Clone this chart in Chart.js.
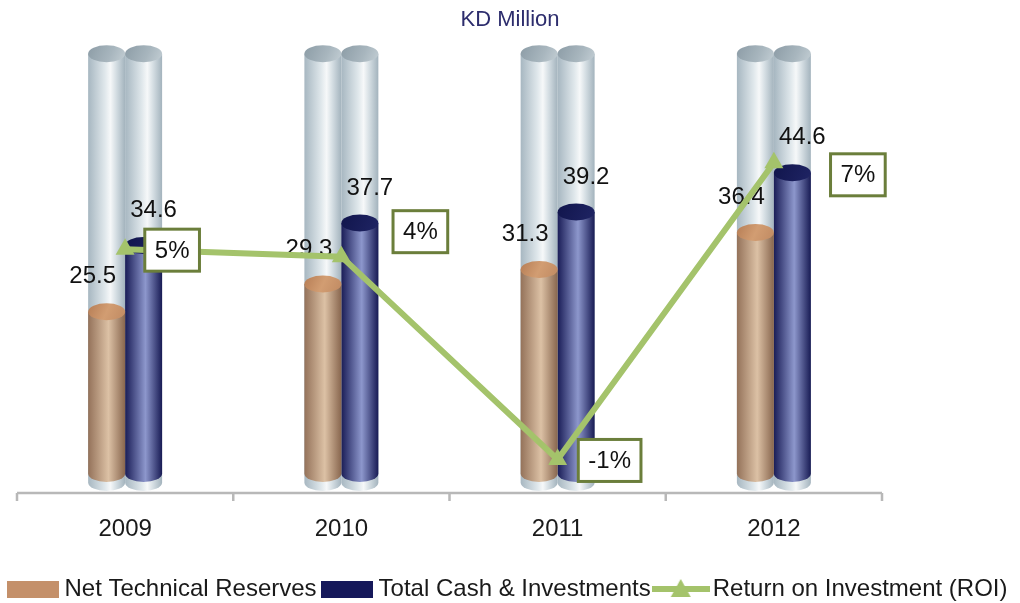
<!DOCTYPE html>
<html>
<head>
<meta charset="utf-8">
<script src="https://cdn.jsdelivr.net/npm/chart.js@4.4.1/dist/chart.umd.min.js"></script>
<style>
    html, body { margin: 0; padding: 0; background: #fff; }
</style>
</head>
<body>
<canvas id="myChart" width="1020" height="603"></canvas>
<script>
const years = ['2009', '2010', '2011', '2012'];
const reserves = [25.5, 29.3, 31.3, 36.4];
const cashInvestments = [34.6, 37.7, 39.2, 44.6];
const roi = [4.6, 4.4, -1.0, 6.9];
const seriesNames = ['Net Technical Reserves', 'Total Cash & Investments', 'Return on Investment (ROI)'];

const yMax = 62;      // left (KD) axis
const tubeValue = 61; // height of the grey back tubes
const y1Min = -2;
const y1Max = 10;

// label box offsets for the ROI labels (px from the point)
const roiLabelShift = [[47, 1], [79, -25], [52, 1], [84, 12]];

const greenLine = '#a4c36b';
const tanStops = [[0, '#94725a'], [0.55, '#dcc1a5'], [1, '#88664e']];
const tanTop = [[0, '#b67d55'], [0.5, '#d29d72'], [1, '#c08a62']];
const navyStops = [[0, '#1a1d57'], [0.55, '#8d97cc'], [1, '#181b54']];
const navyTop = [[0, '#11154c'], [1, '#1f2464']];
const greyStops = [[0, '#a7b7c1'], [0.45, '#dfe7eb'], [0.6, '#f6f8f9'], [0.75, '#d6dfe4'], [1, '#a3b3bd']];
const greyTop = [[0, '#8c9ca6'], [0.6, '#a8b6be'], [1, '#c3ced4']];

Chart.defaults.font.family = '"Liberation Sans", Arial, sans-serif';
Chart.defaults.color = '#1a1a1a';

function fillStops(g, stops) {
    stops.forEach(s => g.addColorStop(s[0], s[1]));
    return g;
}

function drawCylinder(ctx, cx, w, yTop, yBot, bodyStops, topStops) {
    const rx = w / 2, ry = 8.5;
    const left = cx - rx;
    ctx.beginPath();
    ctx.moveTo(left, yTop);
    ctx.lineTo(left, yBot);
    ctx.ellipse(cx, yBot, rx, ry, 0, Math.PI, 0, true);
    ctx.lineTo(left + w, yTop);
    ctx.closePath();
    ctx.fillStyle = fillStops(ctx.createLinearGradient(left, 0, left + w, 0), bodyStops);
    ctx.fill();
    ctx.beginPath();
    ctx.ellipse(cx, yTop, rx, ry, 0, 0, Math.PI * 2);
    ctx.fillStyle = fillStops(ctx.createLinearGradient(left, yTop - ry, left + w, yTop + ry), topStops);
    ctx.fill();
}

const cylinders = {
    id: 'cylinders',
    beforeDatasetsDraw(chart) {
        const {ctx, chartArea, scales} = chart;
        const topY = scales.y.getPixelForValue(tubeValue);
        ctx.save();
        // x axis line with ticks between categories
        const axisY = chartArea.bottom - 4;
        ctx.strokeStyle = '#b8b8b8';
        ctx.lineWidth = 2.5;
        ctx.beginPath();
        ctx.moveTo(chartArea.left, axisY);
        ctx.lineTo(chartArea.right, axisY);
        const step = (chartArea.right - chartArea.left) / years.length;
        for (let i = 0; i <= years.length; i++) {
            const x = chartArea.left + i * step;
            ctx.moveTo(x, axisY);
            ctx.lineTo(x, axisY + 8);
        }
        ctx.stroke();
        // grey back tubes
        [0, 1].forEach(d => {
            chart.getDatasetMeta(d).data.forEach(el => {
                drawCylinder(ctx, el.x, el.width, topY, chartArea.bottom - 14.5, greyStops, greyTop);
            });
        });
        ctx.restore();
    },
    beforeDatasetDraw(chart, args) {
        const meta = args.meta;
        if (meta.type !== 'bar') return;
        const {ctx, chartArea} = chart;
        const d = meta.index;
        const values = chart.data.datasets[d].data;
        ctx.save();
        meta.data.forEach((el, i) => {
            drawCylinder(ctx, el.x, el.width, el.y, chartArea.bottom - 23.5,
                d === 0 ? tanStops : navyStops, d === 0 ? tanTop : navyTop);
            ctx.font = '24px "Liberation Sans", Arial, sans-serif';
            ctx.fillStyle = '#111';
            ctx.textAlign = 'center';
            ctx.textBaseline = 'middle';
            ctx.fillText(values[i].toFixed(1), el.x + (d === 0 ? -14 : 10), el.y - 35);
        });
        ctx.restore();
        return false;
    },
    afterDatasetsDraw(chart) {
        const {ctx} = chart;
        const meta = chart.getDatasetMeta(2);
        ctx.save();
        ctx.font = '24px "Liberation Sans", Arial, sans-serif';
        ctx.textAlign = 'center';
        ctx.textBaseline = 'middle';
        meta.data.forEach((pt, i) => {
            const text = Math.round(roi[i]) + '%';
            const w = ctx.measureText(text).width + 20;
            const h = 42;
            const cx = pt.x + roiLabelShift[i][0];
            const cy = pt.y + roiLabelShift[i][1];
            ctx.fillStyle = '#fff';
            ctx.fillRect(cx - w / 2, cy - h / 2, w, h);
            ctx.strokeStyle = '#6b7e3b';
            ctx.lineWidth = 3;
            ctx.strokeRect(cx - w / 2, cy - h / 2, w, h);
            ctx.fillStyle = '#111';
            ctx.fillText(text, cx, cy + 1);
        });
        ctx.restore();
    }
};

// push the legend row down to the bottom edge
const legendNudge = {
    id: 'legendNudge',
    afterLayout(chart) {
        chart.legend.top += 8;
        chart.legend.bottom += 8;
    }
};

function makeIcon(kind) {
    const c = document.createElement('canvas');
    const ctx = c.getContext('2d');
    if (kind === 'line') {
        c.width = 58; c.height = 22;
        ctx.strokeStyle = greenLine;
        ctx.lineWidth = 6;
        ctx.beginPath();
        ctx.moveTo(0, 11);
        ctx.lineTo(58, 11);
        ctx.stroke();
        ctx.fillStyle = greenLine;
        ctx.beginPath();
        ctx.moveTo(29, 1);
        ctx.lineTo(39, 19);
        ctx.lineTo(19, 19);
        ctx.closePath();
        ctx.fill();
    } else {
        c.width = 52; c.height = 17;
        ctx.fillStyle = kind;
        ctx.fillRect(0, 0, 52, 17);
    }
    return c;
}
const legendIcons = [makeIcon('#c4906a'), makeIcon('#15185a'), makeIcon('line')];

const ctx = document.getElementById('myChart').getContext('2d');
new Chart(ctx, {
    type: 'bar',
    data: {
        labels: years,
        datasets: [
            {
                label: seriesNames[0],
                data: reserves,
                backgroundColor: '#c4906a',
                yAxisID: 'y',
                order: 1,
                categoryPercentage: 0.342,
                barPercentage: 1
            },
            {
                label: seriesNames[1],
                data: cashInvestments,
                backgroundColor: '#15185a',
                yAxisID: 'y',
                order: 1,
                categoryPercentage: 0.342,
                barPercentage: 1
            },
            {
                type: 'line',
                label: seriesNames[2],
                data: roi,
                yAxisID: 'y1',
                order: 0,
                borderColor: greenLine,
                borderWidth: 6,
                tension: 0,
                pointStyle: 'triangle',
                pointRadius: 11,
                pointBackgroundColor: greenLine,
                pointBorderWidth: 0
            }
        ]
    },
    options: {
        responsive: false,
        animation: false,
        layout: { padding: 0 },
        scales: {
            x: {
                grid: { display: false, drawTicks: false },
                border: { display: false },
                ticks: { font: { size: 24 }, color: '#1a1a1a', padding: 18 },
                afterFit(s) { s.height = 62; }
            },
            y: {
                min: 0,
                max: yMax,
                ticks: { display: false },
                grid: { display: false },
                border: { display: false },
                afterFit(s) { s.width = 17; }
            },
            y1: {
                position: 'right',
                min: y1Min,
                max: y1Max,
                ticks: { display: false },
                grid: { display: false },
                border: { display: false },
                afterFit(s) { s.width = 138; }
            }
        },
        plugins: {
            title: {
                display: true,
                text: 'KD Million',
                color: '#2d2d6d',
                font: { size: 22, weight: 'normal' },
                padding: { top: 7, bottom: 13 }
            },
            legend: {
                position: 'bottom',
                labels: {
                    font: { size: 24 },
                    color: '#1a1a1a',
                    usePointStyle: true,
                    pointStyleWidth: 40,
                    padding: 10,
                    generateLabels: () => seriesNames.map((t, i) => ({
                        text: t,
                        pointStyle: legendIcons[i],
                        datasetIndex: i,
                        hidden: false,
                        lineWidth: 0,
                        fillStyle: 'transparent',
                        strokeStyle: 'transparent',
                        fontColor: '#1a1a1a'
                    }))
                }
            },
            tooltip: { enabled: false }
        }
    },
    plugins: [cylinders, legendNudge]
});
</script>
</body>
</html>
